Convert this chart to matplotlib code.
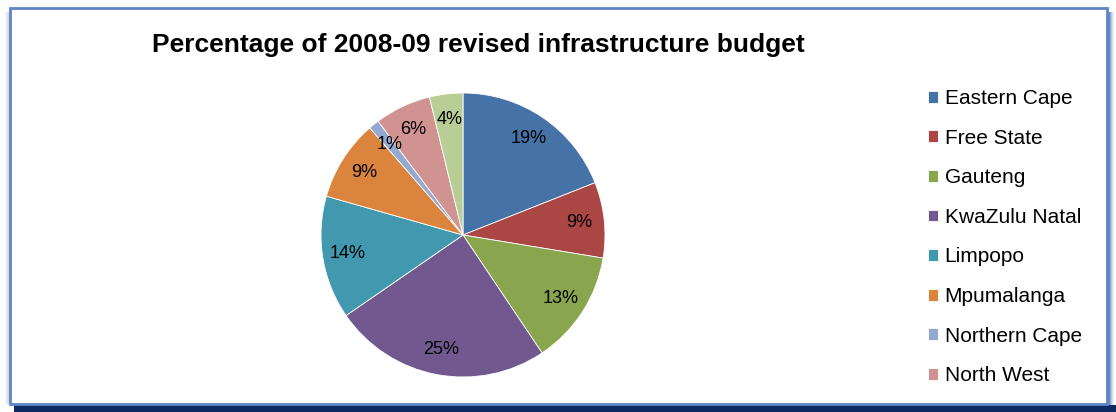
import matplotlib
matplotlib.use('Agg')
import matplotlib.pyplot as plt
from matplotlib.patches import Rectangle

plt.rcParams['font.family'] = ['Liberation Sans', 'DejaVu Sans']

provinces = ['Eastern Cape', 'Free State', 'Gauteng', 'KwaZulu Natal', 'Limpopo',
             'Mpumalanga', 'Northern Cape', 'North West', 'Western Cape']
shares = [19.0, 8.6, 13.0, 24.8, 14.0, 9.2, 1.2, 6.4, 3.8]
colours = ['#4572A7', '#AA4643', '#89A54E', '#71588F', '#4198AF',
           '#DB843D', '#93A9CF', '#D19392', '#B9CD96']

W, H = 1116, 412
fig = plt.figure(figsize=(W / 100, H / 100), dpi=100)


def px_rect(x0, y0, x1, y1, **kw):
    # rectangle given in pixel coords measured from the top-left corner
    return Rectangle((x0 / W, 1 - y1 / H), (x1 - x0) / W, (y1 - y0) / H,
                     transform=fig.transFigure, zorder=-10, **kw)


# soft shadow on the left, dark shadow bottom/right
for i, a in enumerate([0.06, 0.12, 0.2, 0.3]):
    fig.patches.append(px_rect(5 + i, 12, 6 + i, 404, facecolor='#6f6f85', alpha=a, lw=0))
for i, a in enumerate([0.9, 0.75, 0.55, 0.35, 0.2, 0.1]):
    fig.patches.append(px_rect(1108 + i, 12, 1109 + i, 405, facecolor='#3f64a8', alpha=a, lw=0))
fig.patches.append(px_rect(14, 405, 1116, 412, facecolor='#0d2a63', lw=0))
fig.patches.append(px_rect(10, 8, 1107, 404, facecolor='white', edgecolor='#5b86c5', lw=2))

# pie
ax = fig.add_axes([321 / W, 1 - 377 / H, 284 / W, 284 / H])
wedges, texts, autotexts = ax.pie(
    shares, colors=colours, startangle=90, counterclock=False,
    autopct='%.0f%%', pctdistance=0.82,
    wedgeprops=dict(edgecolor='white', linewidth=0.6),
    textprops=dict(fontsize=13, color='black'))
ax.set_xlim(-1, 1)
ax.set_ylim(-1, 1)
ax.set_aspect('equal')

fig.text(478 / W, 1 - 45 / H, 'Percentage of 2008-09 revised infrastructure budget',
         ha='center', va='center', fontsize=19, fontweight='bold')

# legend (only the first eight entries fit in the frame)
fig.legend(wedges[:8], provinces[:8], loc='upper left',
           bbox_to_anchor=(928 / W, 1 - 89 / H), frameon=False,
           fontsize=15, handlelength=0.5, handleheight=0.5,
           handletextpad=0.3, labelspacing=0.99, borderaxespad=0, borderpad=0)

fig.savefig('out.png', dpi=100)
